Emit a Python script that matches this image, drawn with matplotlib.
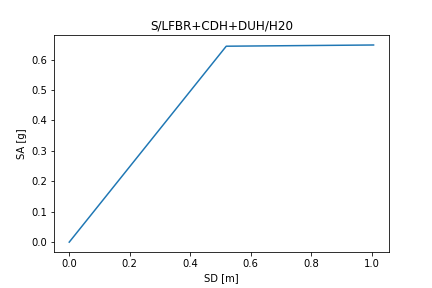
import matplotlib
matplotlib.use("Agg")
import matplotlib.pyplot as plt

sd = [0.0, 0.519, 1.006]
sa = [0.0, 0.644, 0.648]

fig, ax = plt.subplots(figsize=(6, 4), dpi=72)
fig.subplots_adjust(left=0.125, right=0.9, bottom=0.125, top=0.878)
ax.plot(sd, sa)
ax.set_xlabel("SD [m]")
ax.set_ylabel("SA [g]")
ax.set_title("S/LFBR+CDH+DUH/H20")
fig.savefig("out.png")
